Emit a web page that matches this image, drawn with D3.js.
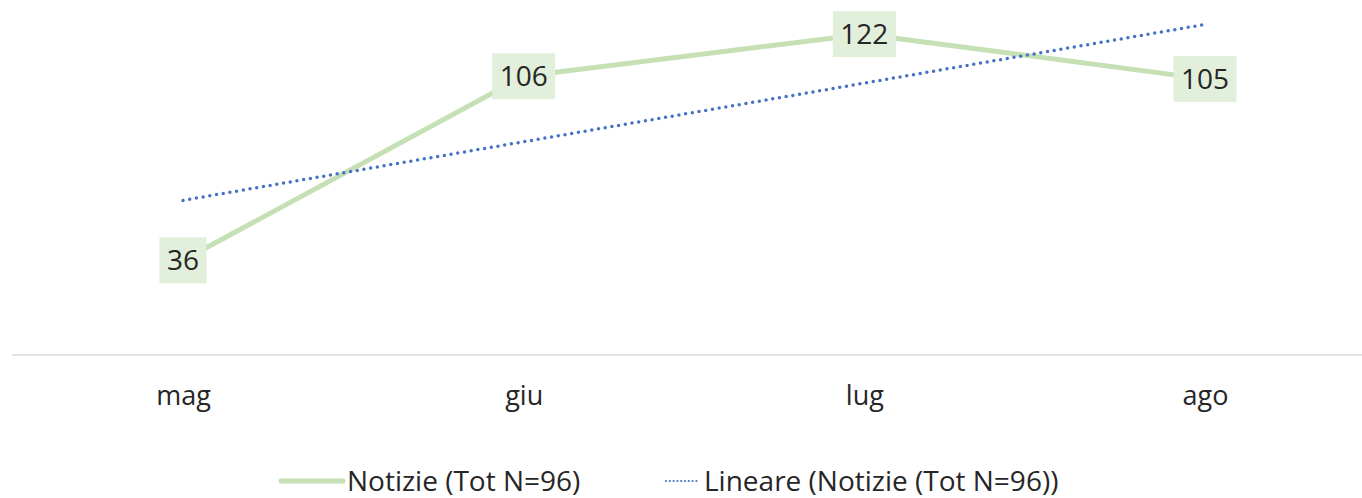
<!DOCTYPE html>
<html>
<head>
<meta charset="utf-8">
<script src="https://cdn.jsdelivr.net/npm/d3@7"></script>
<style>
  html, body { margin: 0; padding: 0; background: #fff; }
  svg { display: block; }
  text { font-family: "Open Sans", "Noto Sans", sans-serif; fill: #262626; }
</style>
</head>
<body>
<svg id="chart" width="1362" height="498"></svg>
<script>
const categories = ["mag", "giu", "lug", "ago"];
const values = [36, 106, 122, 105];
const seriesName = "Notizie (Tot N=96)";
const trendName = "Lineare (Notizie (Tot N=96))";

const W = 1362, H = 498;
const svg = d3.select("#chart");

const x = d3.scalePoint().domain(categories).range([183, 1205]);
const y = d3.scaleLinear().domain([0, 135]).range([355, 0]);

// axis line
svg.append("line")
  .attr("x1", 12).attr("x2", W).attr("y1", y(0)).attr("y2", y(0))
  .attr("stroke", "#D9D9D9").attr("stroke-width", 1.5);

// category labels
const xAxis = d3.axisBottom(x).tickSize(0).tickPadding(0);
const gx = svg.append("g").attr("transform", `translate(0,${y(0)})`).call(xAxis);
gx.select(".domain").remove();
gx.selectAll("text")
  .attr("dy", null)
  .attr("y", 50)
  .style("font-family", '"Open Sans", sans-serif')
  .style("font-size", "27px")
  .attr("fill", "#262626");

// linear trend
const xs = values.map((d, i) => i + 1);
const mx = d3.mean(xs), my = d3.mean(values);
const slope = d3.sum(xs.map((xi, i) => (xi - mx) * (values[i] - my))) / d3.sum(xs.map(xi => (xi - mx) ** 2));
const intercept = my - slope * mx;
const trend = categories.map((c, i) => ({ c, v: intercept + slope * (i + 1) }));

// series line
const line = d3.line().x(d => x(d.c)).y(d => y(d.v));
const data = categories.map((c, i) => ({ c, v: values[i] }));
svg.append("path").datum(data)
  .attr("d", line)
  .attr("fill", "none")
  .attr("stroke", "#C5E0B4")
  .attr("stroke-width", 5)
  .attr("stroke-linejoin", "round");

svg.append("path").datum([trend[0], trend[trend.length - 1]])
  .attr("d", line)
  .attr("fill", "none")
  .attr("stroke", "#4472C4")
  .attr("stroke-width", 3.5)
  .attr("stroke-linecap", "round")
  .attr("stroke-dasharray", "0 6.8");

// data labels
const lbl = svg.append("g");
data.forEach(d => {
  const g = lbl.append("g").attr("transform", `translate(${x(d.c)},${y(d.v)})`);
  const t = g.append("text")
    .attr("text-anchor", "middle")
    .attr("dy", "0.36em")
    .style("font-size", "28px")
    .text(d.v);
  const bb = t.node().getBBox();
  const wBox = bb.width + 15, hBox = 46;
  g.insert("rect", "text")
    .attr("x", -wBox / 2).attr("y", -hBox / 2)
    .attr("width", wBox).attr("height", hBox)
    .attr("fill", "#E2EFDA");
});

// legend
const ly = 481;
const leg = svg.append("g");
leg.append("line").attr("x1", 281).attr("x2", 343).attr("y1", ly).attr("y2", ly)
  .attr("stroke", "#C5E0B4").attr("stroke-width", 5).attr("stroke-linecap", "round");
leg.append("text").attr("x", 347).attr("y", ly).attr("dy", "0.35em")
  .style("font-size", "28px").text(seriesName);
leg.append("line").attr("x1", 666).attr("x2", 700).attr("y1", ly).attr("y2", ly)
  .attr("stroke", "#4472C4").attr("stroke-width", 2.2).attr("stroke-linecap", "round")
  .attr("stroke-dasharray", "0 3.8");
leg.append("text").attr("x", 704).attr("y", ly).attr("dy", "0.35em")
  .style("font-size", "28px").text(trendName);
</script>
</body>
</html>
